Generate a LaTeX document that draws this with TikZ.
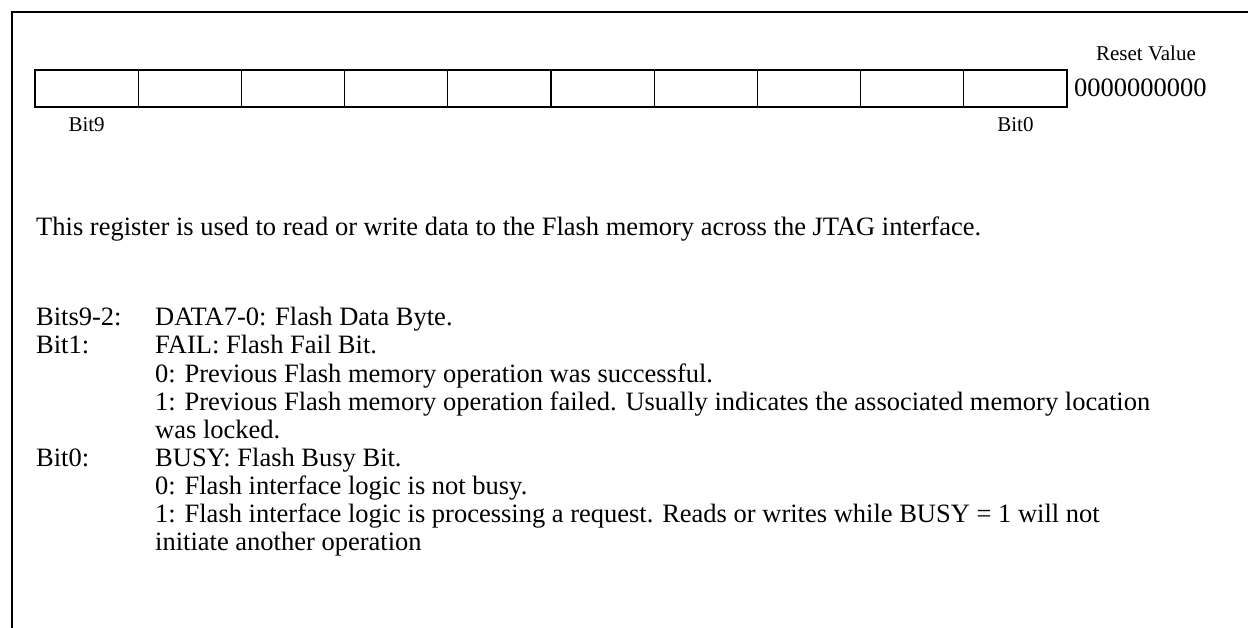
\documentclass[tikz,border=0pt]{standalone}
\usepackage{fontspec}
\setmainfont{Liberation Serif}

\tikzstyle{frame}=[line width=2pt]
\tikzstyle{cell}=[draw=black, line width=1.3pt, rectangle, minimum width=103.2pt, minimum height=37pt, inner sep=0pt]
\tikzstyle{small text}=[inner sep=0pt, font=\fontsize{21}{24}\selectfont]
\tikzstyle{body text}=[inner sep=0pt, anchor=base west, font=\fontsize{26.5}{28}\selectfont]

\begin{document}
\begin{tikzpicture}[x=1pt, y=-1pt]
	\useasboundingbox (0,0) rectangle (1248,628);
	\coordinate (TL) at (12,12);
	\coordinate (TR) at (1250,12);
	\coordinate (BL) at (12,630);
	\draw[frame] (TR) -- (TL) -- (BL);

	\node[cell] (b9) at (86.6,88.5) {};
	\node[cell] (b8) at (189.8,88.5) {};
	\node[cell] (b7) at (293.0,88.5) {};
	\node[cell] (b6) at (396.2,88.5) {};
	\node[cell] (b5) at (499.4,88.5) {};
	\node[cell] (b4) at (602.6,88.5) {};
	\node[cell] (b3) at (705.8,88.5) {};
	\node[cell] (b2) at (809.0,88.5) {};
	\node[cell] (b1) at (912.2,88.5) {};
	\node[cell] (b0) at (1015.4,88.5) {};

	\node[small text, anchor=base] (bitnine) at (86.6,132) {Bit9};
	\node[small text, anchor=base] (bitzero) at (1015.4,132) {Bit0};
	\node[small text, anchor=base] (resetlbl) at (1146,61) {Reset Value};
	\node[body text] (resetval) at (1074,97) {0000000000};

	\node[body text] (intro) at (36,236) {This register is used to read or write data to the Flash memory across the JTAG interface.};

	\node[body text] (lbldata) at (36,326) {Bits9-2:};
	\node[body text] (txtdata) at (155,326) {DATA7-0: Flash Data Byte.};
	\node[body text] (lblfail) at (36,354) {Bit1:};
	\node[body text] (txtfail) at (155,354) {FAIL: Flash Fail Bit.};
	\node[body text] (failzero) at (155,382) {0: Previous Flash memory operation was successful.};
	\node[body text] (failone) at (155,410) {1: Previous Flash memory operation failed. Usually indicates the associated memory location};
	\node[body text] (failmore) at (155,438) {was locked.};
	\node[body text] (lblbusy) at (36,466) {Bit0:};
	\node[body text] (txtbusy) at (155,466) {BUSY: Flash Busy Bit.};
	\node[body text] (busyzero) at (155,494) {0: Flash interface logic is not busy.};
	\node[body text] (busyone) at (155,522) {1: Flash interface logic is processing a request. Reads or writes while BUSY = 1 will not};
	\node[body text] (busymore) at (155,550) {initiate another operation};
\end{tikzpicture}
\end{document}
